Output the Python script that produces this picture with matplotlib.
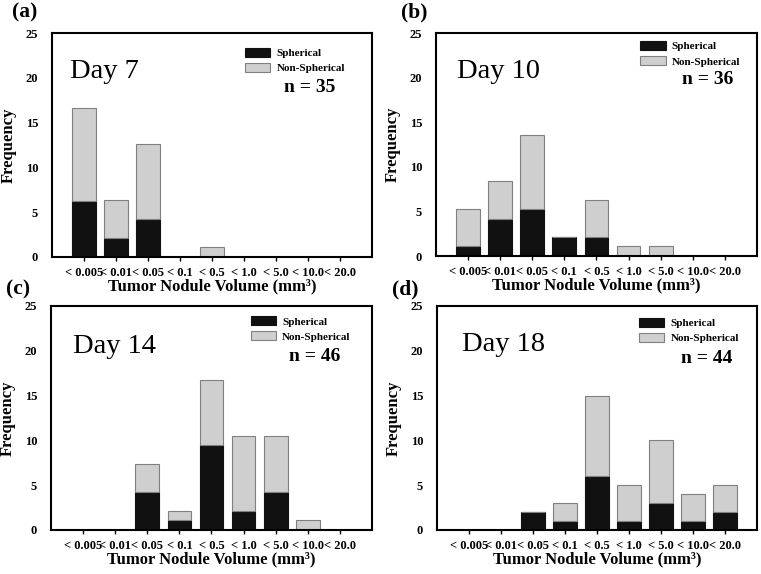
import numpy as np
import matplotlib
matplotlib.use('Agg')
import matplotlib.pyplot as plt

plt.rcParams['font.family'] = 'Liberation Serif'

# Size classes (mm^3)
categories = ['< 0.005', '< 0.01', '< 0.05', '< 0.1', '< 0.5',
              '< 1.0', '< 5.0', '< 10.0', '< 20.0']
yticks = [0, 5, 10, 15, 20, 25]

# Frequencies (spherical stacked under non-spherical)
day7_sph = [6.28, 2.12, 4.2, 0, 0, 0, 0, 0, 0]
day7_non = [10.4, 4.19, 8.36, 0, 1.08, 0, 0, 0, 0]

day10_sph = [1.08, 4.2, 5.22, 2.13, 2.13, 0, 0, 0, 0]
day10_non = [4.14, 4.16, 8.32, 0, 4.14, 1.08, 1.08, 0, 0]

day14_sph = [0, 0, 4.2, 1.08, 9.45, 2.08, 4.2, 0, 0]
day14_non = [0, 0, 3.13, 1.0, 7.29, 8.41, 6.29, 1.08, 0]

day18_sph = [0, 0, 2.05, 1.04, 5.99, 1.04, 3.01, 1.04, 2.05]
day18_non = [0, 0, 0, 1.97, 8.97, 3.95, 6.99, 2.98, 2.94]

panels = [
    ('(a)', 'Day 7', 'n = 35', day7_sph, day7_non),
    ('(b)', 'Day 10', 'n = 36', day10_sph, day10_non),
    ('(c)', 'Day 14', 'n = 46', day14_sph, day14_non),
    ('(d)', 'Day 18', 'n = 44', day18_sph, day18_non),
]

# layout (figure fractions) tuned to the reference
axes_pos = [
    [0.0683, 0.5523, 0.4205, 0.3902],
    [0.5729, 0.5540, 0.4218, 0.3885],
    [0.0670, 0.0767, 0.4218, 0.3902],
    [0.5742, 0.0767, 0.4205, 0.3902],
]
day_pos = [(0.056, 0.80), (0.065, 0.80), (0.068, 0.79), (0.077, 0.80)]
n_pos = [(0.806, 0.738), (0.848, 0.77), (0.82, 0.756), (0.842, 0.747)]
leg_pos = [(0.603, 0.934), (0.636, 0.964), (0.622, 0.955), (0.631, 0.948)]
lab_pos = [(0.016, 0.996), (0.527, 0.996), (0.008, 0.513), (0.515, 0.513)]

black = '#111111'
gray = '#cfcfcf'
gray_edge = '#808080'

fig = plt.figure(figsize=(7.61, 5.74), dpi=100)
x = np.arange(len(categories))

for i, (lab, day, n_txt, sph, non) in enumerate(panels):
    ax = fig.add_axes(axes_pos[i])
    sph = np.array(sph)
    non = np.array(non)
    ax.bar(x, sph, width=0.74, color=black, edgecolor=black, linewidth=0.8,
           label='Spherical')
    ax.bar(x, non, width=0.74, bottom=sph, color=gray, edgecolor=gray_edge,
           linewidth=0.8, label='Non-Spherical')
    ax.set_xlim(-1.0, 9.0)
    ax.set_ylim(0, 25)
    ax.set_yticks(yticks)
    ax.set_yticklabels([str(v) for v in yticks], fontsize=9, fontweight='bold')
    ax.set_xticks(x)
    ax.set_xticklabels(categories, fontsize=9, fontweight='bold')
    ax.tick_params(axis='x', direction='out', length=3, width=1, pad=4)
    ax.tick_params(axis='y', length=0, pad=10)
    for s in ax.spines.values():
        s.set_linewidth(1.5)
    ax.set_xlabel('Tumor Nodule Volume (mm³)', fontsize=12, fontweight='bold',
                  labelpad=0)
    ax.set_ylabel('Frequency', fontsize=12, fontweight='bold', labelpad=6)
    ax.text(day_pos[i][0], day_pos[i][1], day, transform=ax.transAxes,
            fontsize=20.5, va='baseline', ha='left')
    ax.text(n_pos[i][0], n_pos[i][1], n_txt, transform=ax.transAxes,
            fontsize=14, fontweight='bold', va='baseline', ha='center')
    ax.legend(loc='upper left', bbox_to_anchor=leg_pos[i], frameon=False,
              borderaxespad=0, borderpad=0, handlelength=2.3, handleheight=0.9,
              labelspacing=0.42, handletextpad=0.55,
              prop={'weight': 'bold', 'size': 8})
    fig.text(lab_pos[i][0], lab_pos[i][1], lab, fontsize=15.5, fontweight='bold',
             va='top', ha='left')

fig.savefig('out.png', dpi=100)
